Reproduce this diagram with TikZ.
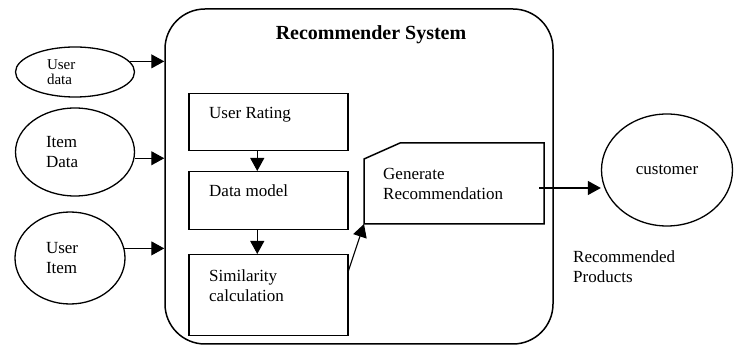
\documentclass[tikz,border=0pt]{standalone}
\usepackage{fontspec}
\setmainfont{Liberation Serif}
\usetikzlibrary{shapes.geometric}
\usetikzlibrary{arrows.meta}
\usetikzlibrary{positioning}

\tikzset{
  frame/.style={draw, line width=1.5pt},
  box/.style={draw, line width=1.5pt, anchor=north west, minimum width=159pt, inner sep=0pt},
  blob/.style={draw, ellipse, line width=1.3pt, inner sep=0pt, align=left, font=\fontsize{17}{20}\selectfont},
  txt/.style={inner sep=0pt, align=left, font=\fontsize{17}{20}\selectfont},
  arr/.style={line width=1.1pt, -{Triangle[length=13pt,width=14pt]}},
}

\begin{document}
\begin{tikzpicture}[x=1pt,y=-1pt]
\useasboundingbox (0,0) rectangle (734,347);
% system frame
\node[frame, rounded corners=40pt, minimum width=388pt, minimum height=335pt, inner sep=0pt] (sys) at (359,176.5) {};
\node[font=\fontsize{20}{24}\selectfont\bfseries, inner sep=0pt] (title) at (371,35) {Recommender System};
% inputs
\node[blob, minimum width=119pt, minimum height=50pt, text width=56pt, font=\fontsize{15}{15}\selectfont] (udata) at (75,72) {User\\data};
\node[blob, minimum width=119pt, minimum height=88pt, text width=58pt] (idata) at (75,152) {Item\\Data};
\node[blob, minimum width=110pt, minimum height=92pt, text width=48pt] (uitem) at (70,258) {User\\Item};
\draw[arr] (udata.11) -- (udata.11 -| sys.west);
\draw[arr] (idata.354) -- (idata.354 -| sys.west);
\draw[arr] (uitem.10) -- (uitem.10 -| sys.west);
% inner steps
\node[box, minimum height=57pt] (rating) at (188,93) {};
\node[box, minimum height=58pt] (model) at (188,171) {};
\node[box, minimum height=81pt] (simil) at (188,254) {};
\node[txt, below right=14pt and 21pt of rating.north west] (ratingtxt) {User Rating};
\node[txt, below right=14pt and 21pt of model.north west] (modeltxt) {Data model};
\node[txt, below right=16pt and 21pt of simil.north west] (similtxt) {Similarity\\calculation};
\draw[arr] ([xshift=-11pt]rating.south) -- ([xshift=-11pt]model.north);
\draw[arr] ([xshift=-11pt]model.south) -- ([xshift=-11pt]simil.north);
% generate
\draw[frame] (364,159) -- (400,143) -- (544,143) -- (544,224) -- (364,224) -- cycle;
\coordinate (gencorner) at (364,224);
\coordinate (genout) at (539,188);
\node[txt, anchor=north west] (gentxt) at (383,168) {Generate\\Recommendation};
\draw[arr] ([yshift=24.5pt]simil.east) -- (gencorner);
% output
\node[blob, minimum width=131pt, minimum height=112pt] (cust) at (667,170) {customer};
\draw[arr] (genout) -- (genout -| cust.west);
\node[txt, anchor=north west] (recprod) at (573,251) {Recommended\\Products};
\end{tikzpicture}
\end{document}
